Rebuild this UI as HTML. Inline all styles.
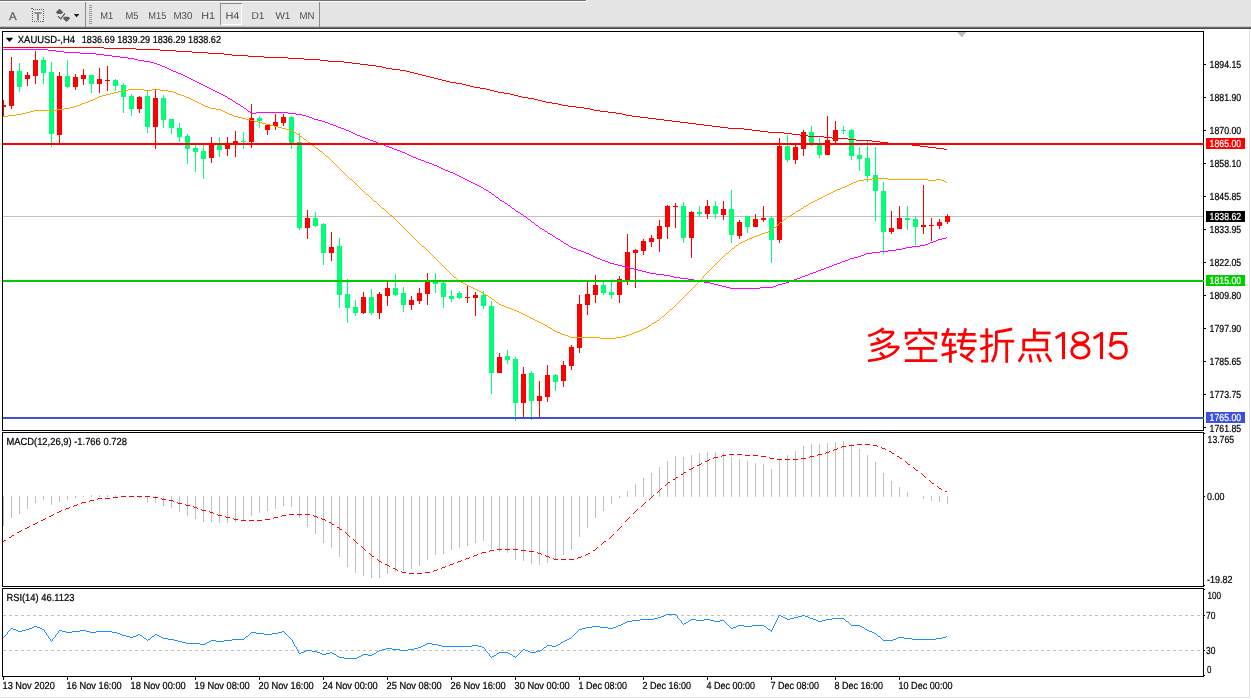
<!DOCTYPE html>
<html><head><meta charset="utf-8"><title>XAUUSD H4</title>
<style>html,body{margin:0;padding:0;background:#fff;overflow:hidden}body{width:1251px;height:699px;position:relative;font-family:"Liberation Sans",sans-serif}</style>
</head><body>
<svg width="1251" height="699" viewBox="0 0 1251 699" style="will-change:transform;text-rendering:geometricPrecision;position:absolute;left:0;top:0;font-family:'Liberation Sans',sans-serif">
<rect x="0" y="0" width="1251" height="699" fill="#fff"/>
<g shape-rendering="crispEdges">
<rect x="0" y="0" width="1251" height="27" fill="#e5e5e5"/>
<rect x="0" y="0" width="586" height="1" fill="#707070"/>
<rect x="0" y="1" width="587" height="1" fill="#ffffff"/>
<rect x="586" y="0" width="1" height="1" fill="#ffffff"/>
<rect x="0" y="26" width="1251" height="1" fill="#c4c4c4"/>
<rect x="0" y="27" width="1251" height="1" fill="#6e6e6e"/>
<rect x="0" y="28" width="1251" height="1" fill="#4a4a4a"/>
<rect x="85" y="2" width="1" height="25" fill="#8a8a8a"/>
<rect x="319" y="2" width="1" height="25" fill="#8a8a8a"/>
<rect x="89" y="5" width="3" height="1" fill="#9a9a9a"/>
<rect x="89" y="7" width="3" height="1" fill="#9a9a9a"/>
<rect x="89" y="9" width="3" height="1" fill="#9a9a9a"/>
<rect x="89" y="11" width="3" height="1" fill="#9a9a9a"/>
<rect x="89" y="13" width="3" height="1" fill="#9a9a9a"/>
<rect x="89" y="15" width="3" height="1" fill="#9a9a9a"/>
<rect x="89" y="17" width="3" height="1" fill="#9a9a9a"/>
<rect x="89" y="19" width="3" height="1" fill="#9a9a9a"/>
<rect x="89" y="21" width="3" height="1" fill="#9a9a9a"/>
<rect x="89" y="23" width="3" height="1" fill="#9a9a9a"/>
<rect x="220" y="3" width="22" height="22" fill="#e7e7e7"/>
<rect x="220" y="3" width="22" height="1" fill="#8c8c8c"/>
<rect x="220" y="3" width="1" height="22" fill="#8c8c8c"/>
<rect x="241" y="4" width="1" height="21" fill="#fff"/>
<rect x="221" y="24" width="21" height="1" fill="#fff"/>
</g>
<text x="100.30000000000001" y="19" font-size="10" fill="#4c4c4c" textLength="13.0" lengthAdjust="spacingAndGlyphs" stroke="none">M1</text>
<text x="125.4" y="19" font-size="10" fill="#4c4c4c" textLength="13" lengthAdjust="spacingAndGlyphs" stroke="none">M5</text>
<text x="148.3" y="19" font-size="10" fill="#4c4c4c" textLength="18.0" lengthAdjust="spacingAndGlyphs" stroke="none">M15</text>
<text x="173.4" y="19" font-size="10" fill="#4c4c4c" textLength="19" lengthAdjust="spacingAndGlyphs" stroke="none">M30</text>
<text x="201.20000000000002" y="19" font-size="10" fill="#4c4c4c" textLength="13.799999999999983" lengthAdjust="spacingAndGlyphs" stroke="none">H1</text>
<text x="225.4" y="19" font-size="10" fill="#4c4c4c" textLength="14" lengthAdjust="spacingAndGlyphs" stroke="none">H4</text>
<text x="251.4" y="19" font-size="10" fill="#4c4c4c" textLength="13" lengthAdjust="spacingAndGlyphs" stroke="none">D1</text>
<text x="275.4" y="19" font-size="10" fill="#4c4c4c" textLength="15" lengthAdjust="spacingAndGlyphs" stroke="none">W1</text>
<text x="299.4" y="19" font-size="10" fill="#4c4c4c" textLength="15" lengthAdjust="spacingAndGlyphs" stroke="none">MN</text>
<text x="8.9" y="19.5" font-size="11.4" fill="#666" textLength="7.6" lengthAdjust="spacingAndGlyphs" stroke="#666" stroke-width="0.35">A</text>
<rect x="32.5" y="9.5" width="11" height="12" fill="none" stroke="#666" stroke-width="1" stroke-dasharray="1,1" shape-rendering="crispEdges"/>
<rect x="31" y="8" width="2" height="1" fill="#666" shape-rendering="crispEdges"/>
<text x="34.6" y="19.8" font-size="11" fill="#666" textLength="7" lengthAdjust="spacingAndGlyphs" stroke="#666" stroke-width="0.35">T</text>
<g fill="#5c5c5c" stroke="none">
<path d="M59.5 8.7 L63.3 12.2 L61.3 14 L57.7 14 L55.8 12.2 Z"/>
<path d="M66.5 22 L62.8 18.3 L64.6 16.7 L68.4 16.7 L70.2 18.3 Z"/>
<path d="M58 16.3 L60.8 18.9 L64.9 13.4" fill="none" stroke="#5c5c5c" stroke-width="1.3"/>
<path d="M73.8 14 L79.4 14 L76.6 17.2 Z" fill="#1a1a1a"/>
</g>
<g shape-rendering="crispEdges" fill="#000">
<rect x="2" y="31" width="1202" height="1"/>
<rect x="2" y="31" width="1" height="400"/>
<rect x="1203" y="31" width="1" height="400"/>
<rect x="2" y="430" width="1202" height="1"/>
<rect x="2" y="432" width="1202" height="1"/>
<rect x="2" y="432" width="1" height="155"/>
<rect x="1203" y="432" width="1" height="155"/>
<rect x="2" y="586" width="1202" height="1"/>
<rect x="2" y="588" width="1202" height="1"/>
<rect x="2" y="588" width="1" height="89"/>
<rect x="1203" y="588" width="1" height="89"/>
<rect x="2" y="676" width="1202" height="1"/>
<rect x="1249" y="29" width="1" height="669" fill="#e3e3e3"/>
<rect x="0" y="697" width="1250" height="1" fill="#e3e3e3"/>
</g>
<path d="M957 32 L966.5 32 L961.7 37.2 Z" fill="#bdbdbd"/>
<g shape-rendering="crispEdges">
<rect x="3" y="216" width="1200" height="1" fill="#c0c0c0"/>
<rect x="3" y="100" width="1" height="16" fill="#ff0000"/>
<rect x="3" y="105" width="3" height="2" fill="#ff0000"/>
<rect x="11" y="57" width="1" height="52" fill="#ff0000"/>
<rect x="9" y="71" width="5" height="35" fill="#ff0000"/>
<rect x="19" y="63" width="1" height="29" fill="#00fe78"/>
<rect x="17" y="71" width="5" height="16" fill="#00fe78"/>
<rect x="27" y="72" width="1" height="14" fill="#ff0000"/>
<rect x="25" y="75" width="5" height="4" fill="#ff0000"/>
<rect x="35" y="51" width="1" height="33" fill="#ff0000"/>
<rect x="33" y="60" width="5" height="16" fill="#ff0000"/>
<rect x="43" y="57" width="1" height="27" fill="#00fe78"/>
<rect x="41" y="60" width="5" height="13" fill="#00fe78"/>
<rect x="51" y="62" width="1" height="85" fill="#00fe78"/>
<rect x="49" y="72" width="5" height="62" fill="#00fe78"/>
<rect x="59" y="72" width="1" height="71" fill="#ff0000"/>
<rect x="57" y="76" width="5" height="59" fill="#ff0000"/>
<rect x="67" y="60" width="1" height="28" fill="#00fe78"/>
<rect x="65" y="76" width="5" height="11" fill="#00fe78"/>
<rect x="75" y="74" width="1" height="16" fill="#ff0000"/>
<rect x="73" y="77" width="5" height="10" fill="#ff0000"/>
<rect x="83" y="69" width="1" height="16" fill="#ff0000"/>
<rect x="81" y="75" width="5" height="4" fill="#ff0000"/>
<rect x="91" y="75" width="1" height="18" fill="#00fe78"/>
<rect x="89" y="75" width="5" height="9" fill="#00fe78"/>
<rect x="99" y="68" width="1" height="25" fill="#ff0000"/>
<rect x="97" y="79" width="5" height="5" fill="#ff0000"/>
<rect x="107" y="66" width="1" height="25" fill="#ff0000"/>
<rect x="105" y="80" width="5" height="1" fill="#ff0000"/>
<rect x="115" y="79" width="1" height="12" fill="#00fe78"/>
<rect x="113" y="80" width="5" height="6" fill="#00fe78"/>
<rect x="123" y="83" width="1" height="30" fill="#00fe78"/>
<rect x="121" y="85" width="5" height="12" fill="#00fe78"/>
<rect x="131" y="94" width="1" height="22" fill="#00fe78"/>
<rect x="129" y="96" width="5" height="13" fill="#00fe78"/>
<rect x="139" y="96" width="1" height="17" fill="#ff0000"/>
<rect x="137" y="97" width="5" height="12" fill="#ff0000"/>
<rect x="147" y="91" width="1" height="42" fill="#00fe78"/>
<rect x="145" y="96" width="5" height="31" fill="#00fe78"/>
<rect x="155" y="89" width="1" height="60" fill="#ff0000"/>
<rect x="153" y="98" width="5" height="29" fill="#ff0000"/>
<rect x="163" y="95" width="1" height="33" fill="#00fe78"/>
<rect x="161" y="98" width="5" height="22" fill="#00fe78"/>
<rect x="171" y="119" width="1" height="15" fill="#00fe78"/>
<rect x="169" y="119" width="5" height="9" fill="#00fe78"/>
<rect x="179" y="123" width="1" height="19" fill="#00fe78"/>
<rect x="177" y="128" width="5" height="9" fill="#00fe78"/>
<rect x="187" y="134" width="1" height="30" fill="#00fe78"/>
<rect x="185" y="136" width="5" height="13" fill="#00fe78"/>
<rect x="195" y="145" width="1" height="27" fill="#00fe78"/>
<rect x="193" y="148" width="5" height="4" fill="#00fe78"/>
<rect x="203" y="145" width="1" height="34" fill="#00fe78"/>
<rect x="201" y="151" width="5" height="8" fill="#00fe78"/>
<rect x="211" y="137" width="1" height="26" fill="#ff0000"/>
<rect x="209" y="144" width="5" height="14" fill="#ff0000"/>
<rect x="219" y="137" width="1" height="20" fill="#00fe78"/>
<rect x="217" y="145" width="5" height="5" fill="#00fe78"/>
<rect x="227" y="137" width="1" height="19" fill="#ff0000"/>
<rect x="225" y="144" width="5" height="5" fill="#ff0000"/>
<rect x="235" y="131" width="1" height="26" fill="#ff0000"/>
<rect x="233" y="141" width="5" height="3" fill="#ff0000"/>
<rect x="243" y="132" width="1" height="17" fill="#00fe78"/>
<rect x="241" y="141" width="5" height="1" fill="#00fe78"/>
<rect x="251" y="104" width="1" height="44" fill="#ff0000"/>
<rect x="249" y="118" width="5" height="24" fill="#ff0000"/>
<rect x="259" y="116" width="1" height="12" fill="#00fe78"/>
<rect x="257" y="118" width="5" height="3" fill="#00fe78"/>
<rect x="267" y="124" width="1" height="11" fill="#ff0000"/>
<rect x="265" y="125" width="5" height="5" fill="#ff0000"/>
<rect x="275" y="114" width="1" height="16" fill="#ff0000"/>
<rect x="273" y="122" width="5" height="4" fill="#ff0000"/>
<rect x="283" y="114" width="1" height="12" fill="#ff0000"/>
<rect x="281" y="117" width="5" height="6" fill="#ff0000"/>
<rect x="291" y="116" width="1" height="33" fill="#00fe78"/>
<rect x="289" y="117" width="5" height="26" fill="#00fe78"/>
<rect x="299" y="133" width="1" height="97" fill="#00fe78"/>
<rect x="297" y="142" width="5" height="86" fill="#00fe78"/>
<rect x="307" y="210" width="1" height="29" fill="#ff0000"/>
<rect x="305" y="218" width="5" height="10" fill="#ff0000"/>
<rect x="315" y="212" width="1" height="15" fill="#00fe78"/>
<rect x="313" y="218" width="5" height="8" fill="#00fe78"/>
<rect x="323" y="223" width="1" height="42" fill="#00fe78"/>
<rect x="321" y="224" width="5" height="29" fill="#00fe78"/>
<rect x="331" y="232" width="1" height="29" fill="#ff0000"/>
<rect x="329" y="247" width="5" height="6" fill="#ff0000"/>
<rect x="339" y="238" width="1" height="70" fill="#00fe78"/>
<rect x="337" y="246" width="5" height="49" fill="#00fe78"/>
<rect x="347" y="279" width="1" height="44" fill="#00fe78"/>
<rect x="345" y="294" width="5" height="14" fill="#00fe78"/>
<rect x="355" y="300" width="1" height="16" fill="#00fe78"/>
<rect x="353" y="307" width="5" height="6" fill="#00fe78"/>
<rect x="363" y="292" width="1" height="22" fill="#ff0000"/>
<rect x="361" y="297" width="5" height="16" fill="#ff0000"/>
<rect x="371" y="289" width="1" height="26" fill="#00fe78"/>
<rect x="369" y="297" width="5" height="16" fill="#00fe78"/>
<rect x="379" y="292" width="1" height="27" fill="#ff0000"/>
<rect x="377" y="294" width="5" height="19" fill="#ff0000"/>
<rect x="387" y="282" width="1" height="24" fill="#ff0000"/>
<rect x="385" y="288" width="5" height="8" fill="#ff0000"/>
<rect x="395" y="274" width="1" height="22" fill="#00fe78"/>
<rect x="393" y="288" width="5" height="7" fill="#00fe78"/>
<rect x="403" y="287" width="1" height="25" fill="#00fe78"/>
<rect x="401" y="293" width="5" height="12" fill="#00fe78"/>
<rect x="411" y="296" width="1" height="14" fill="#ff0000"/>
<rect x="409" y="300" width="5" height="5" fill="#ff0000"/>
<rect x="419" y="288" width="1" height="16" fill="#ff0000"/>
<rect x="417" y="293" width="5" height="8" fill="#ff0000"/>
<rect x="427" y="273" width="1" height="32" fill="#ff0000"/>
<rect x="425" y="282" width="5" height="12" fill="#ff0000"/>
<rect x="435" y="273" width="1" height="20" fill="#00fe78"/>
<rect x="433" y="282" width="5" height="2" fill="#00fe78"/>
<rect x="443" y="282" width="1" height="26" fill="#00fe78"/>
<rect x="441" y="283" width="5" height="14" fill="#00fe78"/>
<rect x="451" y="290" width="1" height="12" fill="#00fe78"/>
<rect x="449" y="296" width="5" height="3" fill="#00fe78"/>
<rect x="459" y="291" width="1" height="8" fill="#00fe78"/>
<rect x="457" y="293" width="5" height="5" fill="#00fe78"/>
<rect x="467" y="286" width="1" height="17" fill="#ff0000"/>
<rect x="465" y="297" width="5" height="1" fill="#ff0000"/>
<rect x="475" y="292" width="1" height="24" fill="#ff0000"/>
<rect x="473" y="295" width="5" height="3" fill="#ff0000"/>
<rect x="483" y="291" width="1" height="18" fill="#00fe78"/>
<rect x="481" y="295" width="5" height="11" fill="#00fe78"/>
<rect x="491" y="301" width="1" height="93" fill="#00fe78"/>
<rect x="489" y="306" width="5" height="67" fill="#00fe78"/>
<rect x="499" y="353" width="1" height="20" fill="#ff0000"/>
<rect x="497" y="357" width="5" height="16" fill="#ff0000"/>
<rect x="507" y="350" width="1" height="14" fill="#00fe78"/>
<rect x="505" y="356" width="5" height="4" fill="#00fe78"/>
<rect x="515" y="357" width="1" height="64" fill="#00fe78"/>
<rect x="513" y="359" width="5" height="44" fill="#00fe78"/>
<rect x="523" y="367" width="1" height="50" fill="#ff0000"/>
<rect x="521" y="374" width="5" height="29" fill="#ff0000"/>
<rect x="531" y="371" width="1" height="49" fill="#00fe78"/>
<rect x="529" y="373" width="5" height="28" fill="#00fe78"/>
<rect x="539" y="381" width="1" height="36" fill="#ff0000"/>
<rect x="537" y="396" width="5" height="5" fill="#ff0000"/>
<rect x="547" y="365" width="1" height="37" fill="#ff0000"/>
<rect x="545" y="375" width="5" height="22" fill="#ff0000"/>
<rect x="555" y="374" width="1" height="17" fill="#00fe78"/>
<rect x="553" y="375" width="5" height="7" fill="#00fe78"/>
<rect x="563" y="361" width="1" height="26" fill="#ff0000"/>
<rect x="561" y="365" width="5" height="16" fill="#ff0000"/>
<rect x="571" y="345" width="1" height="25" fill="#ff0000"/>
<rect x="569" y="347" width="5" height="19" fill="#ff0000"/>
<rect x="579" y="295" width="1" height="58" fill="#ff0000"/>
<rect x="577" y="304" width="5" height="44" fill="#ff0000"/>
<rect x="587" y="282" width="1" height="33" fill="#ff0000"/>
<rect x="585" y="294" width="5" height="11" fill="#ff0000"/>
<rect x="595" y="275" width="1" height="28" fill="#ff0000"/>
<rect x="593" y="285" width="5" height="10" fill="#ff0000"/>
<rect x="603" y="282" width="1" height="13" fill="#00fe78"/>
<rect x="601" y="285" width="5" height="8" fill="#00fe78"/>
<rect x="611" y="282" width="1" height="17" fill="#00fe78"/>
<rect x="609" y="292" width="5" height="3" fill="#00fe78"/>
<rect x="619" y="276" width="1" height="27" fill="#ff0000"/>
<rect x="617" y="279" width="5" height="16" fill="#ff0000"/>
<rect x="627" y="234" width="1" height="51" fill="#ff0000"/>
<rect x="625" y="252" width="5" height="29" fill="#ff0000"/>
<rect x="635" y="249" width="1" height="39" fill="#ff0000"/>
<rect x="633" y="250" width="5" height="3" fill="#ff0000"/>
<rect x="643" y="239" width="1" height="16" fill="#ff0000"/>
<rect x="641" y="241" width="5" height="10" fill="#ff0000"/>
<rect x="651" y="235" width="1" height="12" fill="#ff0000"/>
<rect x="649" y="238" width="5" height="4" fill="#ff0000"/>
<rect x="659" y="220" width="1" height="32" fill="#ff0000"/>
<rect x="657" y="226" width="5" height="13" fill="#ff0000"/>
<rect x="667" y="205" width="1" height="34" fill="#ff0000"/>
<rect x="665" y="206" width="5" height="21" fill="#ff0000"/>
<rect x="675" y="203" width="1" height="25" fill="#ff0000"/>
<rect x="673" y="206" width="5" height="1" fill="#ff0000"/>
<rect x="683" y="202" width="1" height="41" fill="#00fe78"/>
<rect x="681" y="206" width="5" height="32" fill="#00fe78"/>
<rect x="691" y="211" width="1" height="47" fill="#ff0000"/>
<rect x="689" y="212" width="5" height="26" fill="#ff0000"/>
<rect x="699" y="206" width="1" height="11" fill="#00fe78"/>
<rect x="697" y="212" width="5" height="2" fill="#00fe78"/>
<rect x="707" y="200" width="1" height="19" fill="#ff0000"/>
<rect x="705" y="206" width="5" height="8" fill="#ff0000"/>
<rect x="715" y="201" width="1" height="18" fill="#00fe78"/>
<rect x="713" y="206" width="5" height="8" fill="#00fe78"/>
<rect x="723" y="201" width="1" height="19" fill="#ff0000"/>
<rect x="721" y="209" width="5" height="6" fill="#ff0000"/>
<rect x="731" y="190" width="1" height="53" fill="#00fe78"/>
<rect x="729" y="209" width="5" height="26" fill="#00fe78"/>
<rect x="739" y="220" width="1" height="19" fill="#ff0000"/>
<rect x="737" y="222" width="5" height="14" fill="#ff0000"/>
<rect x="747" y="216" width="1" height="17" fill="#00fe78"/>
<rect x="745" y="216" width="5" height="11" fill="#00fe78"/>
<rect x="755" y="214" width="1" height="13" fill="#ff0000"/>
<rect x="753" y="219" width="5" height="8" fill="#ff0000"/>
<rect x="763" y="206" width="1" height="16" fill="#ff0000"/>
<rect x="761" y="218" width="5" height="2" fill="#ff0000"/>
<rect x="771" y="216" width="1" height="47" fill="#00fe78"/>
<rect x="769" y="218" width="5" height="22" fill="#00fe78"/>
<rect x="779" y="138" width="1" height="105" fill="#ff0000"/>
<rect x="777" y="146" width="5" height="94" fill="#ff0000"/>
<rect x="787" y="135" width="1" height="27" fill="#00fe78"/>
<rect x="785" y="146" width="5" height="14" fill="#00fe78"/>
<rect x="795" y="143" width="1" height="21" fill="#ff0000"/>
<rect x="793" y="147" width="5" height="13" fill="#ff0000"/>
<rect x="803" y="130" width="1" height="26" fill="#ff0000"/>
<rect x="801" y="132" width="5" height="17" fill="#ff0000"/>
<rect x="811" y="126" width="1" height="20" fill="#00fe78"/>
<rect x="809" y="132" width="5" height="11" fill="#00fe78"/>
<rect x="819" y="138" width="1" height="20" fill="#00fe78"/>
<rect x="817" y="145" width="5" height="10" fill="#00fe78"/>
<rect x="827" y="116" width="1" height="39" fill="#ff0000"/>
<rect x="825" y="140" width="5" height="15" fill="#ff0000"/>
<rect x="835" y="121" width="1" height="22" fill="#ff0000"/>
<rect x="833" y="130" width="5" height="11" fill="#ff0000"/>
<rect x="843" y="126" width="1" height="8" fill="#00fe78"/>
<rect x="841" y="130" width="5" height="1" fill="#00fe78"/>
<rect x="851" y="129" width="1" height="31" fill="#00fe78"/>
<rect x="849" y="130" width="5" height="26" fill="#00fe78"/>
<rect x="859" y="147" width="1" height="24" fill="#00fe78"/>
<rect x="857" y="155" width="5" height="4" fill="#00fe78"/>
<rect x="867" y="141" width="1" height="41" fill="#00fe78"/>
<rect x="865" y="158" width="5" height="18" fill="#00fe78"/>
<rect x="875" y="147" width="1" height="74" fill="#00fe78"/>
<rect x="873" y="175" width="5" height="16" fill="#00fe78"/>
<rect x="883" y="182" width="1" height="72" fill="#00fe78"/>
<rect x="881" y="191" width="5" height="41" fill="#00fe78"/>
<rect x="891" y="211" width="1" height="23" fill="#ff0000"/>
<rect x="889" y="228" width="5" height="4" fill="#ff0000"/>
<rect x="899" y="206" width="1" height="23" fill="#ff0000"/>
<rect x="897" y="218" width="5" height="11" fill="#ff0000"/>
<rect x="907" y="206" width="1" height="24" fill="#00fe78"/>
<rect x="905" y="218" width="5" height="2" fill="#00fe78"/>
<rect x="915" y="216" width="1" height="29" fill="#00fe78"/>
<rect x="913" y="219" width="5" height="8" fill="#00fe78"/>
<rect x="923" y="185" width="1" height="49" fill="#ff0000"/>
<rect x="921" y="225" width="5" height="2" fill="#ff0000"/>
<rect x="931" y="218" width="1" height="23" fill="#ff0000"/>
<rect x="929" y="225" width="5" height="1" fill="#ff0000"/>
<rect x="939" y="219" width="1" height="10" fill="#ff0000"/>
<rect x="937" y="222" width="5" height="4" fill="#ff0000"/>
<rect x="947" y="214" width="1" height="10" fill="#ff0000"/>
<rect x="945" y="216" width="5" height="6" fill="#ff0000"/>
<path fill="#ff0000" d="M3 47h101v1h-101zM104 48h32v1h-32zM136 49h24v1h-24zM160 50h16v1h-16zM176 51h16v1h-16zM192 52h16v1h-16zM208 53h16v1h-16zM224 54h8v1h-8zM232 55h16v1h-16zM248 56h16v1h-16zM264 57h24v1h-24zM288 58h16v1h-16zM304 59h16v1h-16zM320 60h8v1h-8zM328 61h16v1h-16zM344 62h8v1h-8zM352 63h8v1h-8zM360 64h8v1h-8zM368 65h8v1h-8zM376 66h6v1h-6zM382 67h4v1h-4zM386 68h6v1h-6zM392 69h8v1h-8zM400 70h6v1h-6zM406 71h4v1h-4zM410 72h4v1h-4zM414 73h4v1h-4zM418 74h4v1h-4zM422 75h4v1h-4zM426 76h4v1h-4zM430 77h4v1h-4zM434 78h4v1h-4zM438 79h4v1h-4zM442 80h4v1h-4zM446 81h4v1h-4zM450 82h6v1h-6zM456 83h6v1h-6zM462 84h4v1h-4zM466 85h4v1h-4zM470 86h4v1h-4zM474 87h6v1h-6zM480 88h6v1h-6zM486 89h4v1h-4zM490 90h4v1h-4zM494 91h4v1h-4zM498 92h6v1h-6zM504 93h6v1h-6zM510 94h4v1h-4zM514 95h4v1h-4zM518 96h4v1h-4zM522 97h6v1h-6zM528 98h6v1h-6zM534 99h4v1h-4zM538 100h4v1h-4zM542 101h4v1h-4zM546 102h6v1h-6zM552 103h6v1h-6zM558 104h4v1h-4zM562 105h6v1h-6zM568 106h8v1h-8zM576 107h8v1h-8zM584 108h6v1h-6zM590 109h4v1h-4zM594 110h6v1h-6zM600 111h8v1h-8zM608 112h8v1h-8zM616 113h6v1h-6zM622 114h4v1h-4zM626 115h6v1h-6zM632 116h8v1h-8zM640 117h8v1h-8zM648 118h8v1h-8zM656 119h8v1h-8zM664 120h8v1h-8zM672 121h8v1h-8zM680 122h8v1h-8zM688 123h8v1h-8zM696 124h8v1h-8zM704 125h8v1h-8zM712 126h8v1h-8zM720 127h8v1h-8zM728 128h16v1h-16zM744 129h8v1h-8zM752 130h8v1h-8zM760 131h8v1h-8zM768 132h16v1h-16zM784 133h8v1h-8zM792 134h8v1h-8zM800 135h8v1h-8zM808 136h16v1h-16zM824 137h8v1h-8zM832 138h16v1h-16zM848 139h8v1h-8zM856 140h16v1h-16zM872 141h8v1h-8zM880 142h8v1h-8zM888 143h16v1h-16zM904 144h8v1h-8zM912 145h8v1h-8zM920 146h8v1h-8zM928 147h8v1h-8zM936 148h8v1h-8zM944 149h3v1h-3z"/>
<path fill="#ffa200" d="M3 116h5v1h-5zM8 115h8v1h-8zM16 114h6v1h-6zM22 113h4v1h-4zM26 112h4v1h-4zM30 111h4v1h-4zM34 110h22v1h-22zM56 109h8v1h-8zM64 108h6v1h-6zM70 107h4v1h-4zM74 106h3v1h-3zM77 105h3v1h-3zM80 104h2v1h-2zM82 103h3v1h-3zM85 102h3v1h-3zM88 101h2v1h-2zM90 100h3v1h-3zM93 99h2v1h-2zM95 98h2v1h-2zM97 97h2v1h-2zM99 96h3v1h-3zM102 95h4v1h-4zM106 94h4v1h-4zM110 93h4v1h-4zM114 92h4v1h-4zM118 91h4v1h-4zM122 90h6v1h-6zM128 89h16v1h-16zM144 90h8v1h-8zM152 89h8v1h-8zM160 90h8v1h-8zM168 91h5v1h-5zM173 92h3v1h-3zM176 93h2v1h-2zM178 94h3v1h-3zM181 95h3v1h-3zM184 96h2v1h-2zM186 97h3v1h-3zM189 98h2v1h-2zM191 99h2v1h-2zM193 100h2v1h-2zM195 101h2v1h-2zM197 102h2v1h-2zM199 103h2v1h-2zM201 104h2v1h-2zM203 105h2v1h-2zM205 106h3v1h-3zM208 107h2v1h-2zM210 108h6v1h-6zM216 109h5v1h-5zM221 110h2v1h-2zM223 111h2v1h-2zM225 112h2v1h-2zM227 113h2v1h-2zM229 114h3v1h-3zM232 115h2v1h-2zM234 116h4v1h-4zM238 117h4v1h-4zM242 118h4v1h-4zM246 119h4v1h-4zM250 120h4v1h-4zM254 121h4v1h-4zM258 122h4v1h-4zM262 123h4v1h-4zM266 124h4v1h-4zM270 125h4v1h-4zM274 126h4v1h-4zM278 127h4v1h-4zM282 128h4v1h-4zM286 129h4v1h-4zM290 130h2v1h-2zM292 131h2v1h-2zM294 132h2v1h-2zM296 133h1v1h-1zM297 134h2v1h-2zM299 135h1v1h-1zM300 136h2v1h-2zM302 137h1v1h-1zM303 138h1v1h-1zM304 139h2v1h-2zM306 140h1v1h-1zM307 141h1v1h-1zM308 142h2v1h-2zM310 143h1v1h-1zM311 144h1v1h-1zM312 145h2v1h-2zM314 146h1v1h-1zM315 147h1v1h-1zM316 148h2v1h-2zM318 149h1v1h-1zM319 150h1v1h-1zM320 151h2v1h-2zM322 152h1v1h-1zM323 153h1v1h-1zM324 154h1v1h-1zM325 155h1v1h-1zM326 156h2v1h-2zM328 157h1v1h-1zM329 158h1v1h-1zM330 159h1v1h-1zM331 160h1v1h-1zM332 161h1v1h-1zM333 162h1v1h-1zM334 163h1v1h-1zM335 164h1v1h-1zM336 165h1v1h-1zM337 166h1v1h-1zM338 167h1v1h-1zM339 168h1v1h-1zM340 169h1v1h-1zM341 170h1v1h-1zM342 171h1v1h-1zM343 172h1v1h-1zM344 173h1v1h-1zM345 174h1v1h-1zM346 175h1v1h-1zM347 176h1v1h-1zM348 177h1v1h-1zM349 178h1v1h-1zM350 179h2v1h-2zM352 180h1v1h-1zM353 181h1v1h-1zM354 182h1v1h-1zM355 183h1v1h-1zM356 184h1v1h-1zM357 185h1v1h-1zM358 186h1v1h-1zM359 187h1v1h-1zM360 188h1v1h-1zM361 189h1v1h-1zM362 190h1v1h-1zM363 191h1v1h-1zM364 192h1v1h-1zM365 193h1v1h-1zM366 194h2v1h-2zM368 195h1v1h-1zM369 196h1v1h-1zM370 197h1v1h-1zM371 198h1v1h-1zM372 199h1v1h-1zM373 200h1v1h-1zM374 201h2v1h-2zM376 202h1v1h-1zM377 203h1v1h-1zM378 204h1v1h-1zM379 205h1v1h-1zM380 206h1v1h-1zM381 207h1v1h-1zM382 208h2v1h-2zM384 209h1v1h-1zM385 210h1v1h-1zM386 211h1v1h-1zM387 212h1v1h-1zM388 213h1v1h-1zM389 214h1v1h-1zM390 215h2v1h-2zM392 216h1v1h-1zM393 217h1v1h-1zM394 218h1v1h-1zM395 219h1v1h-1zM396 220h1v1h-1zM397 221h1v1h-1zM398 222h1v1h-1zM399 223h1v1h-1zM400 224h1v1h-1zM401 225h1v1h-1zM402 226h1v1h-1zM403 227h1v1h-1zM404 228h1v1h-1zM405 229h1v1h-1zM406 230h1v1h-1zM407 231h1v1h-1zM408 232h1v1h-1zM409 233h1v1h-1zM410 234h1v1h-1zM411 235h1v1h-1zM412 236h1v1h-1zM413 237h1v1h-1zM414 238h1v1h-1zM415 239h1v1h-1zM416 240h1v1h-1zM417 241h1v1h-1zM418 242h1v1h-1zM419 243h1v1h-1zM420 244h1v1h-1zM421 245h1v1h-1zM422 246h2v1h-2zM424 247h1v1h-1zM425 248h1v1h-1zM426 249h1v1h-1zM427 250h1v1h-1zM428 251h1v1h-1zM429 252h1v1h-1zM430 253h1v1h-1zM431 254h1v1h-1zM432 255h1v1h-1zM433 256h1v1h-1zM434 257h1v1h-1zM435 258h1v1h-1zM436 259h1v1h-1zM437 260h1v1h-1zM438 261h1v1h-1zM439 262h1v1h-1zM440 263h1v1h-1zM441 264h1v1h-1zM442 265h1v1h-1zM443 266h1v1h-1zM444 267h1v1h-1zM445 268h1v1h-1zM446 269h1v1h-1zM447 270h1v1h-1zM448 271h1v1h-1zM449 272h1v1h-1zM450 273h1v1h-1zM451 274h1v1h-1zM452 275h1v1h-1zM453 276h1v1h-1zM454 277h2v1h-2zM456 278h1v1h-1zM457 279h1v1h-1zM458 280h1v1h-1zM459 281h2v1h-2zM461 282h2v1h-2zM463 283h2v1h-2zM465 284h2v1h-2zM467 285h2v1h-2zM469 286h2v1h-2zM471 287h2v1h-2zM473 288h2v1h-2zM475 289h2v1h-2zM477 290h2v1h-2zM479 291h2v1h-2zM481 292h2v1h-2zM483 293h1v1h-1zM484 294h2v1h-2zM486 295h2v1h-2zM488 296h1v1h-1zM489 297h2v1h-2zM491 298h1v1h-1zM492 299h2v1h-2zM494 300h1v1h-1zM495 301h1v1h-1zM496 302h2v1h-2zM498 303h1v1h-1zM499 304h2v1h-2zM501 305h3v1h-3zM504 306h2v1h-2zM506 307h3v1h-3zM509 308h3v1h-3zM512 309h2v1h-2zM514 310h3v1h-3zM517 311h2v1h-2zM519 312h2v1h-2zM521 313h2v1h-2zM523 314h2v1h-2zM525 315h2v1h-2zM527 316h2v1h-2zM529 317h2v1h-2zM531 318h2v1h-2zM533 319h2v1h-2zM535 320h2v1h-2zM537 321h2v1h-2zM539 322h2v1h-2zM541 323h2v1h-2zM543 324h2v1h-2zM545 325h2v1h-2zM547 326h1v1h-1zM548 327h2v1h-2zM550 328h2v1h-2zM552 329h1v1h-1zM553 330h2v1h-2zM555 331h2v1h-2zM557 332h3v1h-3zM560 333h2v1h-2zM562 334h3v1h-3zM565 335h3v1h-3zM568 336h2v1h-2zM570 337h30v1h-30zM600 338h16v1h-16zM616 337h6v1h-6zM622 336h4v1h-4zM626 335h3v1h-3zM629 334h3v1h-3zM632 333h2v1h-2zM634 332h3v1h-3zM637 331h3v1h-3zM640 330h2v1h-2zM642 329h2v1h-2zM644 328h2v1h-2zM646 327h2v1h-2zM648 326h1v1h-1zM649 325h2v1h-2zM651 324h1v1h-1zM652 323h2v1h-2zM654 322h2v1h-2zM656 321h1v1h-1zM657 320h2v1h-2zM659 319h1v1h-1zM660 318h1v1h-1zM661 317h1v1h-1zM662 316h2v1h-2zM664 315h1v1h-1zM665 314h1v1h-1zM666 313h1v1h-1zM667 312h1v1h-1zM668 311h1v1h-1zM669 310h1v1h-1zM670 309h2v1h-2zM672 308h1v1h-1zM673 307h1v1h-1zM674 306h1v1h-1zM675 305h1v1h-1zM676 304h1v1h-1zM677 303h1v1h-1zM678 302h1v1h-1zM679 301h1v1h-1zM680 300h1v1h-1zM681 299h1v1h-1zM682 298h1v1h-1zM683 297h1v1h-1zM684 296h1v1h-1zM685 295h1v1h-1zM686 294h1v1h-1zM687 293h1v1h-1zM688 292h1v1h-1zM689 291h1v1h-1zM690 290h1v1h-1zM691 289h1v1h-1zM692 288h1v1h-1zM693 287h1v1h-1zM694 286h1v1h-1zM695 285h1v1h-1zM696 284h1v1h-1zM697 283h1v1h-1zM698 282h1v1h-1zM699 281h1v1h-1zM700 280h1v1h-1zM701 279h1v1h-1zM702 278h1v1h-1zM703 276h1v2h-1zM704 275h1v1h-1zM705 274h1v1h-1zM706 273h1v1h-1zM707 272h1v1h-1zM708 271h1v1h-1zM709 270h1v1h-1zM710 269h1v1h-1zM711 268h1v1h-1zM712 267h1v1h-1zM713 266h1v1h-1zM714 265h1v1h-1zM715 264h1v1h-1zM716 263h1v1h-1zM717 262h1v1h-1zM718 261h1v1h-1zM719 260h1v1h-1zM720 259h1v1h-1zM721 258h1v1h-1zM722 257h1v1h-1zM723 256h1v1h-1zM724 255h1v1h-1zM725 254h1v1h-1zM726 253h2v1h-2zM728 252h1v1h-1zM729 251h1v1h-1zM730 250h1v1h-1zM731 249h1v1h-1zM732 248h2v1h-2zM734 247h1v1h-1zM735 246h1v1h-1zM736 245h2v1h-2zM738 244h1v1h-1zM739 243h2v1h-2zM741 242h2v1h-2zM743 241h2v1h-2zM745 240h2v1h-2zM747 239h2v1h-2zM749 238h3v1h-3zM752 237h2v1h-2zM754 236h3v1h-3zM757 235h3v1h-3zM760 234h2v1h-2zM762 233h3v1h-3zM765 232h3v1h-3zM768 231h2v1h-2zM770 230h2v1h-2zM772 229h1v1h-1zM773 228h1v1h-1zM774 227h2v1h-2zM776 226h1v1h-1zM777 225h1v1h-1zM778 224h1v1h-1zM779 223h1v1h-1zM780 222h2v1h-2zM782 221h1v1h-1zM783 220h1v1h-1zM784 219h2v1h-2zM786 218h1v1h-1zM787 217h1v1h-1zM788 216h2v1h-2zM790 215h2v1h-2zM792 214h1v1h-1zM793 213h2v1h-2zM795 212h1v1h-1zM796 211h2v1h-2zM798 210h2v1h-2zM800 209h1v1h-1zM801 208h2v1h-2zM803 207h1v1h-1zM804 206h2v1h-2zM806 205h2v1h-2zM808 204h1v1h-1zM809 203h2v1h-2zM811 202h2v1h-2zM813 201h2v1h-2zM815 200h2v1h-2zM817 199h2v1h-2zM819 198h2v1h-2zM821 197h2v1h-2zM823 196h2v1h-2zM825 195h2v1h-2zM827 194h2v1h-2zM829 193h2v1h-2zM831 192h2v1h-2zM833 191h2v1h-2zM835 190h2v1h-2zM837 189h3v1h-3zM840 188h2v1h-2zM842 187h3v1h-3zM845 186h2v1h-2zM847 185h2v1h-2zM849 184h2v1h-2zM851 183h2v1h-2zM853 182h3v1h-3zM856 181h2v1h-2zM858 180h6v1h-6zM864 179h8v1h-8zM872 178h16v1h-16zM888 179h40v1h-40zM928 180h8v1h-8zM936 179h5v1h-5zM941 180h3v1h-3zM944 181h2v1h-2zM946 182h1v1h-1z"/>
<path fill="#ff00ff" d="M3 49h45v1h-45zM48 50h8v1h-8zM56 51h8v1h-8zM64 52h16v1h-16zM80 53h16v1h-16zM96 54h8v1h-8zM104 55h8v1h-8zM112 56h8v1h-8zM120 57h8v1h-8zM128 58h6v1h-6zM134 59h4v1h-4zM138 60h6v1h-6zM144 61h6v1h-6zM150 62h4v1h-4zM154 63h3v1h-3zM157 64h3v1h-3zM160 65h2v1h-2zM162 66h3v1h-3zM165 67h2v1h-2zM167 68h2v1h-2zM169 69h2v1h-2zM171 70h2v1h-2zM173 71h3v1h-3zM176 72h2v1h-2zM178 73h3v1h-3zM181 74h2v1h-2zM183 75h2v1h-2zM185 76h2v1h-2zM187 77h2v1h-2zM189 78h2v1h-2zM191 79h2v1h-2zM193 80h2v1h-2zM195 81h2v1h-2zM197 82h2v1h-2zM199 83h2v1h-2zM201 84h2v1h-2zM203 85h2v1h-2zM205 86h2v1h-2zM207 87h2v1h-2zM209 88h2v1h-2zM211 89h2v1h-2zM213 90h2v1h-2zM215 91h2v1h-2zM217 92h2v1h-2zM219 93h2v1h-2zM221 94h2v1h-2zM223 95h2v1h-2zM225 96h2v1h-2zM227 97h1v1h-1zM228 98h2v1h-2zM230 99h2v1h-2zM232 100h1v1h-1zM233 101h2v1h-2zM235 102h1v1h-1zM236 103h2v1h-2zM238 104h2v1h-2zM240 105h1v1h-1zM241 106h2v1h-2zM243 107h1v1h-1zM244 108h2v1h-2zM246 109h1v1h-1zM247 110h1v1h-1zM248 111h2v1h-2zM250 112h1v1h-1zM251 113h5v1h-5zM256 112h32v1h-32zM288 113h8v1h-8zM296 114h6v1h-6zM302 115h4v1h-4zM306 116h3v1h-3zM309 117h3v1h-3zM312 118h2v1h-2zM314 119h4v1h-4zM318 120h4v1h-4zM322 121h3v1h-3zM325 122h3v1h-3zM328 123h2v1h-2zM330 124h3v1h-3zM333 125h3v1h-3zM336 126h2v1h-2zM338 127h3v1h-3zM341 128h3v1h-3zM344 129h2v1h-2zM346 130h3v1h-3zM349 131h2v1h-2zM351 132h2v1h-2zM353 133h2v1h-2zM355 134h2v1h-2zM357 135h3v1h-3zM360 136h2v1h-2zM362 137h3v1h-3zM365 138h3v1h-3zM368 139h2v1h-2zM370 140h3v1h-3zM373 141h3v1h-3zM376 142h2v1h-2zM378 143h3v1h-3zM381 144h3v1h-3zM384 145h2v1h-2zM386 146h3v1h-3zM389 147h3v1h-3zM392 148h2v1h-2zM394 149h3v1h-3zM397 150h3v1h-3zM400 151h2v1h-2zM402 152h3v1h-3zM405 153h2v1h-2zM407 154h2v1h-2zM409 155h2v1h-2zM411 156h2v1h-2zM413 157h3v1h-3zM416 158h2v1h-2zM418 159h3v1h-3zM421 160h3v1h-3zM424 161h2v1h-2zM426 162h3v1h-3zM429 163h3v1h-3zM432 164h2v1h-2zM434 165h3v1h-3zM437 166h2v1h-2zM439 167h2v1h-2zM441 168h2v1h-2zM443 169h2v1h-2zM445 170h3v1h-3zM448 171h2v1h-2zM450 172h3v1h-3zM453 173h2v1h-2zM455 174h2v1h-2zM457 175h2v1h-2zM459 176h2v1h-2zM461 177h2v1h-2zM463 178h2v1h-2zM465 179h2v1h-2zM467 180h2v1h-2zM469 181h2v1h-2zM471 182h2v1h-2zM473 183h2v1h-2zM475 184h2v1h-2zM477 185h2v1h-2zM479 186h2v1h-2zM481 187h2v1h-2zM483 188h1v1h-1zM484 189h2v1h-2zM486 190h2v1h-2zM488 191h1v1h-1zM489 192h2v1h-2zM491 193h1v1h-1zM492 194h2v1h-2zM494 195h1v1h-1zM495 196h1v1h-1zM496 197h2v1h-2zM498 198h1v1h-1zM499 199h1v1h-1zM500 200h2v1h-2zM502 201h2v1h-2zM504 202h1v1h-1zM505 203h2v1h-2zM507 204h1v1h-1zM508 205h2v1h-2zM510 206h1v1h-1zM511 207h1v1h-1zM512 208h2v1h-2zM514 209h1v1h-1zM515 210h1v1h-1zM516 211h2v1h-2zM518 212h2v1h-2zM520 213h1v1h-1zM521 214h2v1h-2zM523 215h1v1h-1zM524 216h2v1h-2zM526 217h1v1h-1zM527 218h1v1h-1zM528 219h2v1h-2zM530 220h1v1h-1zM531 221h1v1h-1zM532 222h2v1h-2zM534 223h1v1h-1zM535 224h1v1h-1zM536 225h2v1h-2zM538 226h1v1h-1zM539 227h1v1h-1zM540 228h2v1h-2zM542 229h2v1h-2zM544 230h1v1h-1zM545 231h2v1h-2zM547 232h1v1h-1zM548 233h2v1h-2zM550 234h2v1h-2zM552 235h1v1h-1zM553 236h2v1h-2zM555 237h1v1h-1zM556 238h2v1h-2zM558 239h2v1h-2zM560 240h1v1h-1zM561 241h2v1h-2zM563 242h1v1h-1zM564 243h2v1h-2zM566 244h2v1h-2zM568 245h1v1h-1zM569 246h2v1h-2zM571 247h2v1h-2zM573 248h3v1h-3zM576 249h2v1h-2zM578 250h3v1h-3zM581 251h3v1h-3zM584 252h2v1h-2zM586 253h3v1h-3zM589 254h2v1h-2zM591 255h2v1h-2zM593 256h2v1h-2zM595 257h2v1h-2zM597 258h3v1h-3zM600 259h2v1h-2zM602 260h3v1h-3zM605 261h3v1h-3zM608 262h2v1h-2zM610 263h4v1h-4zM614 264h4v1h-4zM618 265h4v1h-4zM622 266h4v1h-4zM626 267h4v1h-4zM630 268h4v1h-4zM634 269h4v1h-4zM638 270h4v1h-4zM642 271h4v1h-4zM646 272h4v1h-4zM650 273h6v1h-6zM656 274h8v1h-8zM664 275h6v1h-6zM670 276h4v1h-4zM674 277h6v1h-6zM680 278h8v1h-8zM688 279h6v1h-6zM694 280h4v1h-4zM698 281h6v1h-6zM704 282h6v1h-6zM710 283h4v1h-4zM714 284h4v1h-4zM718 285h4v1h-4zM722 286h4v1h-4zM726 287h4v1h-4zM730 288h30v1h-30zM760 287h13v1h-13zM773 286h3v1h-3zM776 285h2v1h-2zM778 284h4v1h-4zM782 283h4v1h-4zM786 282h3v1h-3zM789 281h3v1h-3zM792 280h2v1h-2zM794 279h3v1h-3zM797 278h3v1h-3zM800 277h2v1h-2zM802 276h3v1h-3zM805 275h3v1h-3zM808 274h2v1h-2zM810 273h3v1h-3zM813 272h3v1h-3zM816 271h2v1h-2zM818 270h3v1h-3zM821 269h3v1h-3zM824 268h2v1h-2zM826 267h3v1h-3zM829 266h3v1h-3zM832 265h2v1h-2zM834 264h3v1h-3zM837 263h3v1h-3zM840 262h2v1h-2zM842 261h3v1h-3zM845 260h3v1h-3zM848 259h2v1h-2zM850 258h4v1h-4zM854 257h4v1h-4zM858 256h3v1h-3zM861 255h3v1h-3zM864 254h2v1h-2zM866 253h6v1h-6zM872 252h8v1h-8zM880 251h8v1h-8zM888 250h8v1h-8zM896 249h6v1h-6zM902 248h4v1h-4zM906 247h6v1h-6zM912 246h8v1h-8zM920 245h5v1h-5zM925 244h3v1h-3zM928 243h2v1h-2zM930 242h3v1h-3zM933 241h3v1h-3zM936 240h2v1h-2zM938 239h4v1h-4zM942 238h4v1h-4zM946 237h1v1h-1z"/>
<rect x="3" y="143" width="1201" height="2" fill="#ff0000"/>
<rect x="3" y="280" width="1201" height="2" fill="#00cc00"/>
<rect x="3" y="417" width="1201" height="2" fill="#3c50dc"/>
</g>
<g shape-rendering="crispEdges" fill="#000">
<rect x="1204" y="64" width="2" height="1"/>
<rect x="1204" y="97" width="2" height="1"/>
<rect x="1204" y="130" width="2" height="1"/>
<rect x="1204" y="163" width="2" height="1"/>
<rect x="1204" y="196" width="2" height="1"/>
<rect x="1204" y="229" width="2" height="1"/>
<rect x="1204" y="262" width="2" height="1"/>
<rect x="1204" y="295" width="2" height="1"/>
<rect x="1204" y="328" width="2" height="1"/>
<rect x="1204" y="361" width="2" height="1"/>
<rect x="1204" y="394" width="2" height="1"/>
<rect x="1204" y="427" width="2" height="1"/>
</g>
<text x="1209.6" y="68" font-size="10.2" fill="#000" textLength="31.6" lengthAdjust="spacingAndGlyphs" stroke="#000" stroke-width="0.22" >1894.15</text>
<text x="1209.6" y="101" font-size="10.2" fill="#000" textLength="31.6" lengthAdjust="spacingAndGlyphs" stroke="#000" stroke-width="0.22" >1881.90</text>
<text x="1209.6" y="134" font-size="10.2" fill="#000" textLength="31.6" lengthAdjust="spacingAndGlyphs" stroke="#000" stroke-width="0.22" >1870.00</text>
<text x="1209.6" y="167" font-size="10.2" fill="#000" textLength="31.6" lengthAdjust="spacingAndGlyphs" stroke="#000" stroke-width="0.22" >1858.10</text>
<text x="1209.6" y="200" font-size="10.2" fill="#000" textLength="31.6" lengthAdjust="spacingAndGlyphs" stroke="#000" stroke-width="0.22" >1845.85</text>
<text x="1209.6" y="233" font-size="10.2" fill="#000" textLength="31.6" lengthAdjust="spacingAndGlyphs" stroke="#000" stroke-width="0.22" >1833.95</text>
<text x="1209.6" y="266" font-size="10.2" fill="#000" textLength="31.6" lengthAdjust="spacingAndGlyphs" stroke="#000" stroke-width="0.22" >1822.05</text>
<text x="1209.6" y="299" font-size="10.2" fill="#000" textLength="31.6" lengthAdjust="spacingAndGlyphs" stroke="#000" stroke-width="0.22" >1809.80</text>
<text x="1209.6" y="332" font-size="10.2" fill="#000" textLength="31.6" lengthAdjust="spacingAndGlyphs" stroke="#000" stroke-width="0.22" >1797.90</text>
<text x="1209.6" y="365" font-size="10.2" fill="#000" textLength="31.6" lengthAdjust="spacingAndGlyphs" stroke="#000" stroke-width="0.22" >1785.65</text>
<text x="1209.6" y="398" font-size="10.2" fill="#000" textLength="31.6" lengthAdjust="spacingAndGlyphs" stroke="#000" stroke-width="0.22" >1773.75</text>
<text x="1209.6" y="431.5" font-size="10.2" fill="#000" textLength="31.6" lengthAdjust="spacingAndGlyphs" stroke="#000" stroke-width="0.22" >1761.85</text>
<rect x="1206" y="138" width="39" height="11" fill="#ff0000" shape-rendering="crispEdges"/>
<text x="1209.6" y="147" font-size="10.2" fill="#fff" textLength="31.5" lengthAdjust="spacingAndGlyphs" stroke="#fff" stroke-width="0.22" >1865.00</text>
<rect x="1206" y="211" width="39" height="11" fill="#000000" shape-rendering="crispEdges"/>
<text x="1209.6" y="220" font-size="10.2" fill="#fff" textLength="31.5" lengthAdjust="spacingAndGlyphs" stroke="#fff" stroke-width="0.22" >1838.62</text>
<rect x="1206" y="275" width="39" height="11" fill="#00cc00" shape-rendering="crispEdges"/>
<text x="1209.6" y="284" font-size="10.2" fill="#fff" textLength="31.5" lengthAdjust="spacingAndGlyphs" stroke="#fff" stroke-width="0.22" >1815.00</text>
<rect x="1206" y="412" width="39" height="11" fill="#3c50dc" shape-rendering="crispEdges"/>
<text x="1209.6" y="421" font-size="10.2" fill="#fff" textLength="31.5" lengthAdjust="spacingAndGlyphs" stroke="#fff" stroke-width="0.22" >1765.00</text>
<path d="M5.8 37.8 L13.2 37.8 L9.5 41.9 Z" fill="#000"/>
<text x="17.8" y="43" font-size="10.2" fill="#000" textLength="57.2" lengthAdjust="spacingAndGlyphs" stroke="#000" stroke-width="0.22" >XAUUSD-,H4</text>
<text x="81.8" y="43" font-size="10.2" fill="#000" textLength="139.2" lengthAdjust="spacingAndGlyphs" stroke="#000" stroke-width="0.22" >1836.69 1839.29 1836.29 1838.62</text>
<g shape-rendering="crispEdges">
<rect x="3" y="496" width="1" height="30" fill="#c0c0c0"/>
<rect x="11" y="496" width="1" height="22" fill="#c0c0c0"/>
<rect x="19" y="496" width="1" height="18" fill="#c0c0c0"/>
<rect x="27" y="496" width="1" height="13" fill="#c0c0c0"/>
<rect x="35" y="496" width="1" height="7" fill="#c0c0c0"/>
<rect x="43" y="496" width="1" height="4" fill="#c0c0c0"/>
<rect x="51" y="496" width="1" height="9" fill="#c0c0c0"/>
<rect x="59" y="496" width="1" height="6" fill="#c0c0c0"/>
<rect x="67" y="496" width="1" height="4" fill="#c0c0c0"/>
<rect x="75" y="496" width="1" height="2" fill="#c0c0c0"/>
<rect x="83" y="496" width="1" height="1" fill="#c0c0c0"/>
<rect x="91" y="495" width="1" height="2" fill="#c0c0c0"/>
<rect x="99" y="495" width="1" height="2" fill="#c0c0c0"/>
<rect x="107" y="495" width="1" height="2" fill="#c0c0c0"/>
<rect x="115" y="495" width="1" height="2" fill="#c0c0c0"/>
<rect x="139" y="496" width="1" height="2" fill="#c0c0c0"/>
<rect x="147" y="496" width="1" height="7" fill="#c0c0c0"/>
<rect x="155" y="496" width="1" height="7" fill="#c0c0c0"/>
<rect x="163" y="496" width="1" height="10" fill="#c0c0c0"/>
<rect x="171" y="496" width="1" height="12" fill="#c0c0c0"/>
<rect x="179" y="496" width="1" height="16" fill="#c0c0c0"/>
<rect x="187" y="496" width="1" height="20" fill="#c0c0c0"/>
<rect x="195" y="496" width="1" height="23" fill="#c0c0c0"/>
<rect x="203" y="496" width="1" height="26" fill="#c0c0c0"/>
<rect x="211" y="496" width="1" height="26" fill="#c0c0c0"/>
<rect x="219" y="496" width="1" height="27" fill="#c0c0c0"/>
<rect x="227" y="496" width="1" height="27" fill="#c0c0c0"/>
<rect x="235" y="496" width="1" height="26" fill="#c0c0c0"/>
<rect x="243" y="496" width="1" height="25" fill="#c0c0c0"/>
<rect x="251" y="496" width="1" height="20" fill="#c0c0c0"/>
<rect x="259" y="496" width="1" height="17" fill="#c0c0c0"/>
<rect x="267" y="496" width="1" height="15" fill="#c0c0c0"/>
<rect x="275" y="496" width="1" height="13" fill="#c0c0c0"/>
<rect x="283" y="496" width="1" height="10" fill="#c0c0c0"/>
<rect x="291" y="496" width="1" height="11" fill="#c0c0c0"/>
<rect x="299" y="496" width="1" height="22" fill="#c0c0c0"/>
<rect x="307" y="496" width="1" height="31" fill="#c0c0c0"/>
<rect x="315" y="496" width="1" height="38" fill="#c0c0c0"/>
<rect x="323" y="496" width="1" height="47" fill="#c0c0c0"/>
<rect x="331" y="496" width="1" height="52" fill="#c0c0c0"/>
<rect x="339" y="496" width="1" height="61" fill="#c0c0c0"/>
<rect x="347" y="496" width="1" height="71" fill="#c0c0c0"/>
<rect x="355" y="496" width="1" height="77" fill="#c0c0c0"/>
<rect x="363" y="496" width="1" height="80" fill="#c0c0c0"/>
<rect x="371" y="496" width="1" height="82" fill="#c0c0c0"/>
<rect x="379" y="496" width="1" height="82" fill="#c0c0c0"/>
<rect x="387" y="496" width="1" height="78" fill="#c0c0c0"/>
<rect x="395" y="496" width="1" height="76" fill="#c0c0c0"/>
<rect x="403" y="496" width="1" height="75" fill="#c0c0c0"/>
<rect x="411" y="496" width="1" height="73" fill="#c0c0c0"/>
<rect x="419" y="496" width="1" height="70" fill="#c0c0c0"/>
<rect x="427" y="496" width="1" height="64" fill="#c0c0c0"/>
<rect x="435" y="496" width="1" height="59" fill="#c0c0c0"/>
<rect x="443" y="496" width="1" height="58" fill="#c0c0c0"/>
<rect x="451" y="496" width="1" height="54" fill="#c0c0c0"/>
<rect x="459" y="496" width="1" height="52" fill="#c0c0c0"/>
<rect x="467" y="496" width="1" height="50" fill="#c0c0c0"/>
<rect x="475" y="496" width="1" height="47" fill="#c0c0c0"/>
<rect x="483" y="496" width="1" height="45" fill="#c0c0c0"/>
<rect x="491" y="496" width="1" height="53" fill="#c0c0c0"/>
<rect x="499" y="496" width="1" height="56" fill="#c0c0c0"/>
<rect x="507" y="496" width="1" height="57" fill="#c0c0c0"/>
<rect x="515" y="496" width="1" height="64" fill="#c0c0c0"/>
<rect x="523" y="496" width="1" height="65" fill="#c0c0c0"/>
<rect x="531" y="496" width="1" height="68" fill="#c0c0c0"/>
<rect x="539" y="496" width="1" height="69" fill="#c0c0c0"/>
<rect x="547" y="496" width="1" height="67" fill="#c0c0c0"/>
<rect x="555" y="496" width="1" height="63" fill="#c0c0c0"/>
<rect x="563" y="496" width="1" height="59" fill="#c0c0c0"/>
<rect x="571" y="496" width="1" height="54" fill="#c0c0c0"/>
<rect x="579" y="496" width="1" height="41" fill="#c0c0c0"/>
<rect x="587" y="496" width="1" height="32" fill="#c0c0c0"/>
<rect x="595" y="496" width="1" height="22" fill="#c0c0c0"/>
<rect x="603" y="496" width="1" height="15" fill="#c0c0c0"/>
<rect x="611" y="496" width="1" height="8" fill="#c0c0c0"/>
<rect x="619" y="496" width="1" height="2" fill="#c0c0c0"/>
<rect x="627" y="491" width="1" height="6" fill="#c0c0c0"/>
<rect x="635" y="484" width="1" height="13" fill="#c0c0c0"/>
<rect x="643" y="478" width="1" height="19" fill="#c0c0c0"/>
<rect x="651" y="473" width="1" height="24" fill="#c0c0c0"/>
<rect x="659" y="467" width="1" height="30" fill="#c0c0c0"/>
<rect x="667" y="461" width="1" height="36" fill="#c0c0c0"/>
<rect x="675" y="456" width="1" height="41" fill="#c0c0c0"/>
<rect x="683" y="457" width="1" height="40" fill="#c0c0c0"/>
<rect x="691" y="455" width="1" height="42" fill="#c0c0c0"/>
<rect x="699" y="453" width="1" height="44" fill="#c0c0c0"/>
<rect x="707" y="452" width="1" height="45" fill="#c0c0c0"/>
<rect x="715" y="452" width="1" height="45" fill="#c0c0c0"/>
<rect x="723" y="453" width="1" height="44" fill="#c0c0c0"/>
<rect x="731" y="457" width="1" height="40" fill="#c0c0c0"/>
<rect x="739" y="459" width="1" height="38" fill="#c0c0c0"/>
<rect x="747" y="461" width="1" height="36" fill="#c0c0c0"/>
<rect x="755" y="463" width="1" height="34" fill="#c0c0c0"/>
<rect x="763" y="464" width="1" height="33" fill="#c0c0c0"/>
<rect x="771" y="469" width="1" height="28" fill="#c0c0c0"/>
<rect x="779" y="459" width="1" height="38" fill="#c0c0c0"/>
<rect x="787" y="455" width="1" height="42" fill="#c0c0c0"/>
<rect x="795" y="451" width="1" height="46" fill="#c0c0c0"/>
<rect x="803" y="446" width="1" height="51" fill="#c0c0c0"/>
<rect x="811" y="444" width="1" height="53" fill="#c0c0c0"/>
<rect x="819" y="444" width="1" height="53" fill="#c0c0c0"/>
<rect x="827" y="443" width="1" height="54" fill="#c0c0c0"/>
<rect x="835" y="442" width="1" height="55" fill="#c0c0c0"/>
<rect x="843" y="441" width="1" height="56" fill="#c0c0c0"/>
<rect x="851" y="444" width="1" height="53" fill="#c0c0c0"/>
<rect x="859" y="449" width="1" height="48" fill="#c0c0c0"/>
<rect x="867" y="455" width="1" height="42" fill="#c0c0c0"/>
<rect x="875" y="462" width="1" height="35" fill="#c0c0c0"/>
<rect x="883" y="473" width="1" height="24" fill="#c0c0c0"/>
<rect x="891" y="481" width="1" height="16" fill="#c0c0c0"/>
<rect x="899" y="487" width="1" height="10" fill="#c0c0c0"/>
<rect x="907" y="492" width="1" height="5" fill="#c0c0c0"/>
<rect x="923" y="496" width="1" height="3" fill="#c0c0c0"/>
<rect x="931" y="496" width="1" height="5" fill="#c0c0c0"/>
<rect x="939" y="496" width="1" height="6" fill="#c0c0c0"/>
<rect x="947" y="496" width="1" height="8" fill="#c0c0c0"/>
<path fill="#ff0000" d="M3 541h1v1h-1zM4 540h2v1h-2zM9 537h2v1h-2zM11 536h1v1h-1zM12 535h2v1h-2zM17 532h2v1h-2zM19 531h2v1h-2zM21 530h1v1h-1zM25 528h2v1h-2zM27 527h2v1h-2zM29 526h1v1h-1zM33 524h2v1h-2zM35 523h2v1h-2zM37 522h1v1h-1zM41 520h2v1h-2zM43 519h2v1h-2zM45 518h1v1h-1zM49 516h2v1h-2zM51 515h2v1h-2zM53 514h1v1h-1zM57 512h2v1h-2zM59 511h2v1h-2zM61 510h1v1h-1zM65 509h1v1h-1zM66 508h3v1h-3zM69 507h1v1h-1zM73 506h1v1h-1zM74 505h3v1h-3zM77 504h1v1h-1zM81 503h1v1h-1zM82 502h4v1h-4zM89 501h1v1h-1zM90 500h4v1h-4zM97 499h1v1h-1zM98 498h4v1h-4zM105 498h5v1h-5zM113 497h5v1h-5zM121 496h5v1h-5zM129 496h5v1h-5zM137 496h5v1h-5zM145 496h5v1h-5zM153 497h5v1h-5zM161 498h1v1h-1zM162 499h4v1h-4zM169 500h4v1h-4zM173 501h1v1h-1zM177 502h1v1h-1zM178 503h4v1h-4zM185 504h1v1h-1zM186 505h4v1h-4zM193 506h1v1h-1zM194 507h3v1h-3zM197 508h1v1h-1zM201 509h1v1h-1zM202 510h4v1h-4zM209 511h1v1h-1zM210 512h3v1h-3zM213 513h1v1h-1zM217 514h1v1h-1zM218 515h4v1h-4zM225 516h1v1h-1zM226 517h4v1h-4zM233 518h1v1h-1zM234 519h4v1h-4zM241 520h5v1h-5zM249 520h5v1h-5zM257 520h5v1h-5zM265 519h5v1h-5zM273 518h1v1h-1zM274 517h4v1h-4zM281 516h1v1h-1zM282 515h4v1h-4zM289 514h5v1h-5zM297 514h5v1h-5zM305 514h5v1h-5zM313 515h1v1h-1zM314 516h3v1h-3zM317 517h1v1h-1zM321 518h1v1h-1zM322 519h3v1h-3zM325 520h1v1h-1zM329 522h2v1h-2zM331 523h1v1h-1zM332 524h2v1h-2zM337 527h2v1h-2zM339 528h1v1h-1zM340 529h2v1h-2zM345 532h1v1h-1zM346 533h1v1h-1zM347 534h1v1h-1zM348 535h1v1h-1zM349 536h1v1h-1zM353 539h1v1h-1zM354 540h1v1h-1zM355 541h1v1h-1zM356 542h1v1h-1zM357 543h1v1h-1zM361 546h1v1h-1zM362 547h1v1h-1zM363 548h1v1h-1zM364 549h1v1h-1zM365 550h1v1h-1zM369 553h1v1h-1zM370 554h1v1h-1zM371 555h1v1h-1zM372 556h2v1h-2zM377 559h1v1h-1zM378 560h1v1h-1zM379 561h2v1h-2zM381 562h1v1h-1zM385 564h2v1h-2zM387 565h2v1h-2zM389 566h1v1h-1zM393 568h2v1h-2zM395 569h2v1h-2zM397 570h1v1h-1zM401 571h1v1h-1zM402 572h4v1h-4zM409 573h5v1h-5zM417 573h5v1h-5zM425 572h5v1h-5zM433 571h1v1h-1zM434 570h3v1h-3zM437 569h1v1h-1zM441 568h1v1h-1zM442 567h3v1h-3zM445 566h1v1h-1zM449 565h1v1h-1zM450 564h3v1h-3zM453 563h1v1h-1zM457 562h1v1h-1zM458 561h3v1h-3zM461 560h1v1h-1zM465 559h1v1h-1zM466 558h3v1h-3zM469 557h1v1h-1zM473 556h1v1h-1zM474 555h3v1h-3zM477 554h1v1h-1zM481 553h1v1h-1zM482 552h4v1h-4zM489 551h1v1h-1zM490 550h4v1h-4zM497 549h5v1h-5zM505 549h5v1h-5zM513 549h5v1h-5zM521 550h5v1h-5zM529 551h5v1h-5zM537 552h1v1h-1zM538 553h3v1h-3zM541 554h1v1h-1zM545 555h1v1h-1zM546 556h3v1h-3zM549 557h1v1h-1zM553 558h1v1h-1zM554 559h4v1h-4zM561 559h5v1h-5zM569 559h5v1h-5zM577 558h1v1h-1zM578 557h3v1h-3zM581 556h1v1h-1zM585 555h1v1h-1zM586 554h2v1h-2zM588 553h2v1h-2zM593 550h2v1h-2zM595 549h1v1h-1zM596 548h1v1h-1zM597 547h1v1h-1zM601 544h1v1h-1zM602 543h1v1h-1zM603 542h1v1h-1zM604 541h2v1h-2zM609 538h1v1h-1zM610 537h1v1h-1zM611 536h1v1h-1zM612 535h1v1h-1zM613 534h1v1h-1zM617 530h1v1h-1zM618 529h1v1h-1zM619 528h1v1h-1zM620 527h1v1h-1zM621 526h1v1h-1zM625 521h1v1h-1zM626 520h1v1h-1zM627 519h1v1h-1zM628 518h1v1h-1zM629 517h1v1h-1zM633 513h1v1h-1zM634 512h1v1h-1zM635 511h1v1h-1zM636 510h1v1h-1zM637 509h1v1h-1zM641 506h1v1h-1zM642 505h1v1h-1zM643 504h1v1h-1zM644 503h1v1h-1zM645 502h1v1h-1zM649 499h1v1h-1zM650 498h1v1h-1zM651 497h1v1h-1zM652 496h1v1h-1zM653 495h1v1h-1zM657 492h1v1h-1zM658 491h1v1h-1zM659 490h1v1h-1zM660 489h1v1h-1zM661 488h1v1h-1zM665 485h1v1h-1zM666 484h1v1h-1zM667 483h1v1h-1zM668 482h2v1h-2zM673 479h2v1h-2zM675 478h1v1h-1zM676 477h2v1h-2zM681 474h2v1h-2zM683 473h1v1h-1zM684 472h2v1h-2zM689 469h2v1h-2zM691 468h2v1h-2zM693 467h1v1h-1zM697 465h2v1h-2zM699 464h2v1h-2zM701 463h1v1h-1zM705 461h2v1h-2zM707 460h2v1h-2zM709 459h1v1h-1zM713 458h1v1h-1zM714 457h4v1h-4zM721 456h1v1h-1zM722 455h4v1h-4zM729 454h5v1h-5zM737 454h5v1h-5zM745 455h5v1h-5zM753 455h5v1h-5zM761 456h5v1h-5zM769 457h1v1h-1zM770 458h4v1h-4zM777 459h5v1h-5zM785 459h5v1h-5zM793 459h5v1h-5zM801 458h5v1h-5zM809 457h1v1h-1zM810 456h4v1h-4zM817 455h1v1h-1zM818 454h4v1h-4zM825 453h1v1h-1zM826 452h3v1h-3zM829 451h1v1h-1zM833 450h1v1h-1zM834 449h3v1h-3zM837 448h1v1h-1zM841 447h1v1h-1zM842 446h4v1h-4zM849 445h5v1h-5zM857 444h5v1h-5zM865 444h5v1h-5zM873 445h4v1h-4zM877 446h1v1h-1zM881 447h1v1h-1zM882 448h3v1h-3zM885 449h1v1h-1zM889 451h2v1h-2zM891 452h1v1h-1zM892 453h2v1h-2zM897 456h2v1h-2zM899 457h1v1h-1zM900 458h2v1h-2zM905 461h1v1h-1zM906 462h1v1h-1zM907 463h1v1h-1zM908 464h2v1h-2zM913 467h1v1h-1zM914 468h1v1h-1zM915 469h1v1h-1zM916 470h2v1h-2zM921 473h1v1h-1zM922 474h1v1h-1zM923 475h1v1h-1zM924 476h1v1h-1zM925 477h1v1h-1zM929 480h1v1h-1zM930 481h1v1h-1zM931 482h1v1h-1zM932 483h2v1h-2zM937 486h1v1h-1zM938 487h1v1h-1zM939 488h2v1h-2zM941 489h1v1h-1zM945 491h2v1h-2z"/>
<rect x="1204" y="433" width="1" height="1" fill="#000"/>
<rect x="1204" y="496" width="1" height="1" fill="#000"/>
<rect x="1204" y="585" width="1" height="1" fill="#000"/>
</g>
<text x="6.4" y="445" font-size="10.2" fill="#000" textLength="120.5" lengthAdjust="spacingAndGlyphs" stroke="#000" stroke-width="0.22" >MACD(12,26,9) -1.766 0.728</text>
<text x="1207.6" y="443" font-size="10.2" fill="#000" textLength="26.4" lengthAdjust="spacingAndGlyphs" stroke="#000" stroke-width="0.22" >13.765</text>
<text x="1207" y="500" font-size="10.2" fill="#000" textLength="17.4" lengthAdjust="spacingAndGlyphs" stroke="#000" stroke-width="0.22" >0.00</text>
<text x="1207" y="583" font-size="10.2" fill="#000" textLength="25.4" lengthAdjust="spacingAndGlyphs" stroke="#000" stroke-width="0.22" >-19.82</text>
<g shape-rendering="crispEdges">
<line x1="3" y1="615.5" x2="1203" y2="615.5" stroke="#c0c0c0" stroke-width="1" stroke-dasharray="3,3"/>
<line x1="3" y1="650.5" x2="1203" y2="650.5" stroke="#c0c0c0" stroke-width="1" stroke-dasharray="3,3"/>
<path fill="#1e90ff" d="M3 637h1v1h-1zM4 636h1v1h-1zM5 635h1v1h-1zM6 634h1v1h-1zM7 632h1v2h-1zM8 631h1v1h-1zM9 630h1v1h-1zM10 629h1v1h-1zM11 628h2v1h-2zM13 629h3v1h-3zM16 630h2v1h-2zM18 631h4v1h-4zM22 630h4v1h-4zM26 629h3v1h-3zM29 628h3v1h-3zM32 627h2v1h-2zM34 626h3v1h-3zM37 627h3v1h-3zM40 628h2v1h-2zM42 629h2v1h-2zM44 630h1v2h-1zM45 632h1v1h-1zM46 633h1v2h-1zM47 635h1v1h-1zM48 636h1v2h-1zM49 638h1v1h-1zM50 639h1v2h-1zM51 641h1v1h-1zM52 639h1v2h-1zM53 638h1v1h-1zM54 637h1v1h-1zM55 635h1v2h-1zM56 634h1v1h-1zM57 633h1v1h-1zM58 631h1v2h-1zM59 630h3v1h-3zM62 631h4v1h-4zM66 632h6v1h-6zM72 631h8v1h-8zM80 630h6v1h-6zM86 631h4v1h-4zM90 632h6v1h-6zM96 631h16v1h-16zM112 632h5v1h-5zM117 633h3v1h-3zM120 634h2v1h-2zM122 635h4v1h-4zM126 636h4v1h-4zM130 637h3v1h-3zM133 636h3v1h-3zM136 635h2v1h-2zM138 634h2v1h-2zM140 635h2v1h-2zM142 636h1v1h-1zM143 637h1v1h-1zM144 638h2v1h-2zM146 639h1v1h-1zM147 640h1v1h-1zM148 639h2v1h-2zM150 638h1v1h-1zM151 637h1v1h-1zM152 636h2v1h-2zM154 635h1v1h-1zM155 634h2v1h-2zM157 635h2v1h-2zM159 636h2v1h-2zM161 637h2v1h-2zM163 638h5v1h-5zM168 639h6v1h-6zM174 640h4v1h-4zM178 641h4v1h-4zM182 642h4v1h-4zM186 643h14v1h-14zM200 644h5v1h-5zM205 643h2v1h-2zM207 642h2v1h-2zM209 641h2v1h-2zM211 640h5v1h-5zM216 641h8v1h-8zM224 640h8v1h-8zM232 639h12v1h-12zM244 638h1v1h-1zM245 637h1v1h-1zM246 636h2v1h-2zM248 635h1v1h-1zM249 634h1v1h-1zM250 633h1v1h-1zM251 632h5v1h-5zM256 633h8v1h-8zM264 634h8v1h-8zM272 633h6v1h-6zM278 632h4v1h-4zM282 631h2v1h-2zM284 632h1v1h-1zM285 633h1v1h-1zM286 634h1v1h-1zM287 635h1v1h-1zM288 636h1v1h-1zM289 637h1v1h-1zM290 638h1v1h-1zM291 639h1v1h-1zM292 640h1v2h-1zM293 642h1v2h-1zM294 644h1v2h-1zM295 646h1v1h-1zM296 647h1v2h-1zM297 649h1v2h-1zM298 651h1v2h-1zM299 653h2v1h-2zM301 652h3v1h-3zM304 651h2v1h-2zM306 650h6v1h-6zM312 651h5v1h-5zM317 652h3v1h-3zM320 653h2v1h-2zM322 654h4v1h-4zM326 653h4v1h-4zM330 652h2v1h-2zM332 653h2v1h-2zM334 654h2v1h-2zM336 655h1v1h-1zM337 656h2v1h-2zM339 657h5v1h-5zM344 658h13v1h-13zM357 657h2v1h-2zM359 656h2v1h-2zM361 655h2v1h-2zM363 654h5v1h-5zM368 655h4v1h-4zM372 654h2v1h-2zM374 653h2v1h-2zM376 652h1v1h-1zM377 651h2v1h-2zM379 650h3v1h-3zM382 649h4v1h-4zM386 648h6v1h-6zM392 649h8v1h-8zM400 650h8v1h-8zM408 649h6v1h-6zM414 648h4v1h-4zM418 647h3v1h-3zM421 646h2v1h-2zM423 645h2v1h-2zM425 644h2v1h-2zM427 643h5v1h-5zM432 644h6v1h-6zM438 645h4v1h-4zM442 646h30v1h-30zM472 645h6v1h-6zM478 646h4v1h-4zM482 647h2v1h-2zM484 648h1v1h-1zM485 649h1v2h-1zM486 651h1v1h-1zM487 652h1v1h-1zM488 653h1v1h-1zM489 654h1v2h-1zM490 656h1v1h-1zM491 657h1v1h-1zM492 656h2v1h-2zM494 655h2v1h-2zM496 654h1v1h-1zM497 653h2v1h-2zM499 652h9v1h-9zM508 653h2v1h-2zM510 654h2v1h-2zM512 655h1v1h-1zM513 656h2v1h-2zM515 657h1v1h-1zM516 656h1v1h-1zM517 655h1v1h-1zM518 654h1v1h-1zM519 653h1v1h-1zM520 652h1v1h-1zM521 651h1v1h-1zM522 650h1v1h-1zM523 649h2v1h-2zM525 650h3v1h-3zM528 651h2v1h-2zM530 652h6v1h-6zM536 651h4v1h-4zM540 650h2v1h-2zM542 649h1v1h-1zM543 648h1v1h-1zM544 647h2v1h-2zM546 646h1v1h-1zM547 645h5v1h-5zM552 646h4v1h-4zM556 645h2v1h-2zM558 644h2v1h-2zM560 643h1v1h-1zM561 642h2v1h-2zM563 641h2v1h-2zM565 640h2v1h-2zM567 639h2v1h-2zM569 638h2v1h-2zM571 637h1v1h-1zM572 636h1v1h-1zM573 635h1v1h-1zM574 634h1v1h-1zM575 633h1v1h-1zM576 632h1v1h-1zM577 631h1v1h-1zM578 630h1v1h-1zM579 629h3v1h-3zM582 628h4v1h-4zM586 627h6v1h-6zM592 626h8v1h-8zM600 627h8v1h-8zM608 628h5v1h-5zM613 627h3v1h-3zM616 626h2v1h-2zM618 625h3v1h-3zM621 624h2v1h-2zM623 623h2v1h-2zM625 622h2v1h-2zM627 621h5v1h-5zM632 620h8v1h-8zM640 619h14v1h-14zM654 618h4v1h-4zM658 617h3v1h-3zM661 616h3v1h-3zM664 615h2v1h-2zM666 614h10v1h-10zM676 615h1v1h-1zM677 616h1v2h-1zM678 618h1v1h-1zM679 619h1v1h-1zM680 620h1v1h-1zM681 621h1v2h-1zM682 623h1v1h-1zM683 624h1v1h-1zM684 623h2v1h-2zM686 622h2v1h-2zM688 621h1v1h-1zM689 620h2v1h-2zM691 619h5v1h-5zM696 620h8v1h-8zM704 619h6v1h-6zM710 620h4v1h-4zM714 621h6v1h-6zM720 620h4v1h-4zM724 621h1v1h-1zM725 622h1v1h-1zM726 623h1v1h-1zM727 624h1v1h-1zM728 625h1v1h-1zM729 626h1v1h-1zM730 627h1v1h-1zM731 628h2v1h-2zM733 627h3v1h-3zM736 626h2v1h-2zM738 625h6v1h-6zM744 626h8v1h-8zM752 625h12v1h-12zM764 626h2v1h-2zM766 627h1v1h-1zM767 628h1v1h-1zM768 629h2v1h-2zM770 630h2v1h-2zM771 631h1v1h-1zM772 628h1v2h-1zM773 626h1v2h-1zM774 624h1v2h-1zM775 622h1v2h-1zM776 620h1v2h-1zM777 618h1v2h-1zM778 616h1v2h-1zM779 615h2v1h-2zM781 616h2v1h-2zM783 617h2v1h-2zM785 618h2v1h-2zM787 619h3v1h-3zM790 618h4v1h-4zM794 617h4v1h-4zM798 616h4v1h-4zM802 615h3v1h-3zM805 616h3v1h-3zM808 617h2v1h-2zM810 618h3v1h-3zM813 619h3v1h-3zM816 620h2v1h-2zM818 621h4v1h-4zM822 620h4v1h-4zM826 619h6v1h-6zM832 618h12v1h-12zM844 619h1v1h-1zM845 620h1v1h-1zM846 621h2v1h-2zM848 622h1v1h-1zM849 623h1v1h-1zM850 624h1v1h-1zM851 625h9v1h-9zM860 626h2v1h-2zM862 627h2v1h-2zM864 628h1v1h-1zM865 629h2v1h-2zM867 630h2v1h-2zM869 631h3v1h-3zM872 632h2v1h-2zM874 633h2v1h-2zM876 634h1v1h-1zM877 635h1v1h-1zM878 636h2v1h-2zM880 637h1v1h-1zM881 638h1v1h-1zM882 639h1v1h-1zM883 640h10v1h-10zM893 639h3v1h-3zM896 638h2v1h-2zM898 637h6v1h-6zM904 638h8v1h-8zM912 639h24v1h-24zM936 638h6v1h-6zM942 637h4v1h-4zM946 636h1v1h-1z"/>
<rect x="1204" y="589" width="1" height="1" fill="#000"/>
<rect x="1204" y="615" width="1" height="1" fill="#000"/>
<rect x="1204" y="650" width="1" height="1" fill="#000"/>
<rect x="1204" y="675" width="1" height="1" fill="#000"/>
</g>
<text x="6.4" y="601" font-size="10.2" fill="#000" textLength="68" lengthAdjust="spacingAndGlyphs" stroke="#000" stroke-width="0.22" >RSI(14) 46.1123</text>
<text x="1207.4" y="599" font-size="10.2" fill="#000" textLength="13.7" lengthAdjust="spacingAndGlyphs" stroke="#000" stroke-width="0.22" >100</text>
<text x="1206" y="619" font-size="10.2" fill="#000" textLength="9.4" lengthAdjust="spacingAndGlyphs" stroke="#000" stroke-width="0.22" >70</text>
<text x="1206" y="654" font-size="10.2" fill="#000" textLength="9.4" lengthAdjust="spacingAndGlyphs" stroke="#000" stroke-width="0.22" >30</text>
<text x="1207" y="673" font-size="10.2" fill="#000" textLength="4.4" lengthAdjust="spacingAndGlyphs" stroke="#000" stroke-width="0.22" >0</text>
<g shape-rendering="crispEdges" fill="#000">
<rect x="3" y="677" width="1" height="3"/>
<rect x="67" y="677" width="1" height="3"/>
<rect x="131" y="677" width="1" height="3"/>
<rect x="195" y="677" width="1" height="3"/>
<rect x="259" y="677" width="1" height="3"/>
<rect x="323" y="677" width="1" height="3"/>
<rect x="387" y="677" width="1" height="3"/>
<rect x="451" y="677" width="1" height="3"/>
<rect x="515" y="677" width="1" height="3"/>
<rect x="579" y="677" width="1" height="3"/>
<rect x="643" y="677" width="1" height="3"/>
<rect x="707" y="677" width="1" height="3"/>
<rect x="771" y="677" width="1" height="3"/>
<rect x="835" y="677" width="1" height="3"/>
<rect x="899" y="677" width="1" height="3"/>
</g>
<text x="2.5" y="689" font-size="10.2" fill="#000" textLength="52.3" lengthAdjust="spacingAndGlyphs" stroke="#000" stroke-width="0.22" >13 Nov 2020</text>
<text x="66.5" y="689" font-size="10.2" fill="#000" textLength="55.3" lengthAdjust="spacingAndGlyphs" stroke="#000" stroke-width="0.22" >16 Nov 16:00</text>
<text x="130.5" y="689" font-size="10.2" fill="#000" textLength="55.3" lengthAdjust="spacingAndGlyphs" stroke="#000" stroke-width="0.22" >18 Nov 00:00</text>
<text x="194.5" y="689" font-size="10.2" fill="#000" textLength="55.3" lengthAdjust="spacingAndGlyphs" stroke="#000" stroke-width="0.22" >19 Nov 08:00</text>
<text x="258.5" y="689" font-size="10.2" fill="#000" textLength="55.3" lengthAdjust="spacingAndGlyphs" stroke="#000" stroke-width="0.22" >20 Nov 16:00</text>
<text x="322.5" y="689" font-size="10.2" fill="#000" textLength="55.3" lengthAdjust="spacingAndGlyphs" stroke="#000" stroke-width="0.22" >24 Nov 00:00</text>
<text x="386.5" y="689" font-size="10.2" fill="#000" textLength="55.3" lengthAdjust="spacingAndGlyphs" stroke="#000" stroke-width="0.22" >25 Nov 08:00</text>
<text x="450.5" y="689" font-size="10.2" fill="#000" textLength="55.3" lengthAdjust="spacingAndGlyphs" stroke="#000" stroke-width="0.22" >26 Nov 16:00</text>
<text x="514.5" y="689" font-size="10.2" fill="#000" textLength="55.3" lengthAdjust="spacingAndGlyphs" stroke="#000" stroke-width="0.22" >30 Nov 00:00</text>
<text x="578.5" y="689" font-size="10.2" fill="#000" textLength="48.6" lengthAdjust="spacingAndGlyphs" stroke="#000" stroke-width="0.22" >1 Dec 08:00</text>
<text x="642.5" y="689" font-size="10.2" fill="#000" textLength="48.6" lengthAdjust="spacingAndGlyphs" stroke="#000" stroke-width="0.22" >2 Dec 16:00</text>
<text x="706.5" y="689" font-size="10.2" fill="#000" textLength="48.6" lengthAdjust="spacingAndGlyphs" stroke="#000" stroke-width="0.22" >4 Dec 00:00</text>
<text x="770.5" y="689" font-size="10.2" fill="#000" textLength="48.6" lengthAdjust="spacingAndGlyphs" stroke="#000" stroke-width="0.22" >7 Dec 08:00</text>
<text x="834.5" y="689" font-size="10.2" fill="#000" textLength="48.6" lengthAdjust="spacingAndGlyphs" stroke="#000" stroke-width="0.22" >8 Dec 16:00</text>
<text x="898.5" y="689" font-size="10.2" fill="#000" textLength="54" lengthAdjust="spacingAndGlyphs" stroke="#000" stroke-width="0.22" >10 Dec 00:00</text>
<g fill="none" stroke="#ff0000" stroke-width="2.75" stroke-linecap="butt" stroke-linejoin="miter" stroke-miterlimit="1.6">
<path d="M883.6 328.2 Q877.8 333 868.3 335.9"/>
<path d="M881.5 332 L893.4 332 Q889.8 341.2 870.5 344.8"/>
<path d="M876.6 337.9 L880.7 342.1"/>
<path d="M890.4 343 Q882.6 348.6 871.4 351"/>
<path d="M887.5 347 L898.6 346.8 Q893.4 358.3 868 360.9"/>
<path d="M880 352.4 L884.9 357.2"/>
<path d="M919.2 328.2 L920.8 332.4"/>
<path d="M906.2 339.3 L906.2 333 L935.8 333 L935.8 339.3"/>
<path d="M917.2 337.4 L906.4 344.5"/>
<path d="M923.6 337.2 L934.8 344.5"/>
<path d="M908 348.4 L933.8 348.4"/>
<path d="M921 348.4 L921 360.5"/>
<path d="M904.8 360.5 L937.3 360.5"/>
<path d="M941.6 334.4 L955.8 334.4"/>
<path d="M948.6 328.2 L942.8 345 L955.8 345"/>
<path d="M950.4 338.6 L950.4 362.8"/>
<path d="M941.6 355.2 L956.8 351.3"/>
<path d="M958 334.4 L975.6 334.4"/>
<path d="M956.8 340.9 L976.6 340.9"/>
<path d="M965.7 328.2 L961 348.4 L974.4 348.4 L966.6 356.6"/>
<path d="M960.4 354 L972.8 361.8"/>
<path d="M980.2 336.1 L992.8 336.1"/>
<path d="M986.8 328.2 L986.8 361.1 L981.2 361.1"/>
<path d="M980.2 349.3 L992.8 344.5"/>
<path d="M1012.2 328.8 Q1004 331 996.4 331.8"/>
<path d="M996.4 331 L996.4 346 Q996.4 355 992 361.8"/>
<path d="M996.4 341.2 L1014.2 341.2"/>
<path d="M1006.7 341.2 L1006.7 362.8"/>
<path d="M1034.4 328.2 L1034.4 340.2"/>
<path d="M1034.4 333 L1050.6 333"/>
<path d="M1023.7 340.2 L1046.7 340.2 L1046.7 349.8 L1023.7 349.8 Z"/>
<path d="M1023.6 353.6 L1018.8 361.8"/>
<path d="M1029.8 354.3 L1031.4 362.4"/>
<path d="M1037.6 354 L1040.4 362"/>
<path d="M1045.9 353.6 L1051.1 361.8"/>
</g>
<g fill="none" stroke="#ff0000" stroke-width="2.9" stroke-miterlimit="1.3">
<path d="M1055.6 337.9 L1063.5 333.4"/>
<path d="M1063.5 332.1 L1063.5 359.1" stroke-width="3.1"/>
<ellipse cx="1080.4" cy="337.8" rx="7.4" ry="5.2"/>
<ellipse cx="1080.4" cy="351.2" rx="8.7" ry="6.9"/>
<path d="M1093.6 338.2 L1101.5 333.7"/>
<path d="M1101.5 332.1 L1101.5 359.1" stroke-width="3.1"/>
<path d="M1127 333.5 L1112.4 333.5 L1110.4 346.3 Q1113.5 342 1118.6 342 Q1126.4 342.4 1126.4 350.2 Q1126.2 358.2 1118.2 358.3 Q1111.6 358.2 1109.8 352.6"/>
</g>
</svg>
</body></html>
